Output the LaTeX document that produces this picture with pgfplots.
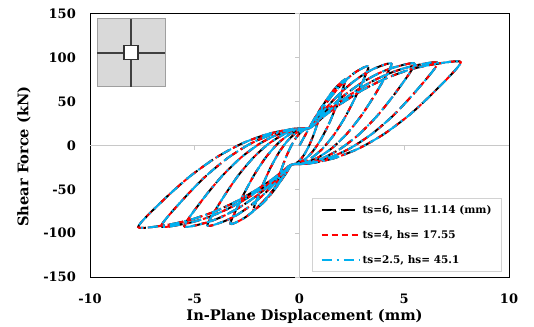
\documentclass[border=0pt]{standalone}
\usepackage{pgfplots}
\pgfplotsset{compat=1.18}
\usepackage{pgfplotstable}
\usepackage{fontspec}
\setmainfont{DejaVu Serif}
\definecolor{cyanx}{HTML}{00B0F0}
\definecolor{zerogray}{HTML}{C8C8C8}
\pgfplotstableread{
x y
0 0
0.3 13
0.6 26
0.9 38
1.1 45
0.875 26.4
0.65 10.8
0.425 -1.7
0.2 -11.3
-0.025 -17.8
-0.25 -21.3
-0.4 -22
-0.47 -24.9
-0.54 -27.8
-0.645 -31.9
-0.75 -35.7
-0.855 -39.1
-0.96 -42.2
-1.1 -45
-0.86 -27.0
-0.62 -11.9
-0.38 0.3
-0.14 9.6
0.1 15.9
0.34 19.35
0.5 20
0.67 27.5
0.84 34.7
1.095 44.9
1.35 54.2
1.605 62.4
1.86 69.2
2.2 75
1.81 48.1
1.42 25.5
1.03 7.3
0.64 -6.5
0.25 -15.9
-0.14 -21.0
-0.4 -22
-0.58 -29.0
-0.76 -35.7
-1.03 -45.1
-1.30 -53.7
-1.57 -61.3
-1.84 -67.6
-2.2 -73
-1.795 -47.2
-1.39 -25.6
-0.985 -8.1
-0.58 5.1
-0.175 14.2
0.23 19.1
0.5 20
0.78 30.9
1.06 41.0
1.48 54.9
1.90 66.9
2.32 77.0
2.74 84.7
3.3 90
2.745 58.9
2.19 32.9
1.635 11.9
1.08 -4.1
0.525 -15.0
-0.03 -20.9
-0.4 -22
-0.69 -32.4
-0.98 -42.1
-1.415 -55.4
-1.85 -66.9
-2.285 -76.5
-2.72 -83.9
-3.3 -89
-2.73 -58.8
-2.16 -33.4
-1.59 -13.0
-1.02 2.6
-0.45 13.2
0.12 18.9
0.5 20
0.89 32.0
1.28 43.1
1.865 57.9
2.45 70.5
3.035 80.7
3.62 88.3
4.4 93
3.68 61.1
2.96 34.4
2.24 12.8
1.52 -3.6
0.8 -14.8
0.08 -20.85
-0.4 -22
-0.8 -33.3
-1.2 -43.8
-1.8 -57.8
-2.4 -69.7
-3.0 -79.4
-3.6 -86.5
-4.4 -91
-3.665 -60.2
-2.93 -34.4
-2.195 -13.6
-1.46 2.2
-0.725 13.1
0.01 18.9
0.5 20
1.0 32.6
1.5 44.2
2.25 59.4
3.0 72.0
3.75 82.0
4.5 89.0
5.5 93
4.615 61.1
3.73 34.4
2.845 12.8
1.96 -3.6
1.075 -14.8
0.19 -20.85
-0.4 -22
-0.91 -34.1
-1.42 -45.2
-2.185 -59.8
-2.95 -71.9
-3.715 -81.4
-4.48 -88.2
-5.5 -92
-4.6 -60.9
-3.7 -34.9
-2.8 -13.9
-1.9 2.1
-1.0 13.0
-0.1 18.9
0.5 20
1.11 33.4
1.72 45.6
2.635 61.4
3.55 74.2
4.465 83.9
5.38 90.5
6.6 94
5.55 61.8
4.5 34.8
3.45 13.1
2.4 -3.4
1.35 -14.75
0.3 -20.8
-0.4 -22
-1.02 -34.7
-1.64 -46.2
-2.57 -61.1
-3.5 -73.2
-4.43 -82.5
-5.36 -88.7
-6.6 -92
-5.535 -60.9
-4.47 -34.9
-3.405 -13.9
-2.34 2.1
-1.275 13.0
-0.21 18.9
0.5 20
1.22 34.3
1.94 47.0
3.02 63.4
4.1 76.3
5.18 85.9
6.26 92.0
7.7 95
6.485 62.5
5.27 35.3
4.055 13.4
2.84 -3.3
1.625 -14.7
0.41 -20.8
-0.4 -22
-1.13 -35.5
-1.86 -47.6
-2.955 -63.0
-4.05 -75.3
-5.145 -84.3
-6.24 -90.2
-7.7 -93
-6.47 -61.6
-5.24 -35.4
-4.01 -14.2
-2.78 1.9
-1.55 12.9
-0.32 18.9
0.5 20
}\loops
\begin{document}
\begin{tikzpicture}
\path[use as bounding box] (0,0) rectangle (534pt,326pt);
\begin{axis}[
  at={(90pt,49pt)}, anchor=south west,
  width=419pt, height=263pt, scale only axis,
  xmin=-10, xmax=10, ymin=-150, ymax=150,
  xtick={-10,-5,0,5,10}, ytick={-150,-100,-50,0,50,100,150},
  xticklabels={-10,-5,0,5,10}, yticklabels={-150,-100,-50,0,50,100,150},
  major tick length=0pt, tick style={draw=none},
  axis line style={black, line width=1pt},
  xticklabel style={font=\bfseries\fontsize{13}{15}\selectfont, inner sep=0pt, anchor=base, yshift=-26pt},
  yticklabel style={font=\bfseries\fontsize{13}{15}\selectfont, inner sep=0pt, anchor=east, xshift=-14pt},
  xlabel={In-Plane Displacement (mm)}, ylabel={Shear Force (kN)},
  xlabel style={at={(axis description cs:0.512,-0.167)}, anchor=base, font=\bfseries\fontsize{14.6}{17}\selectfont},
  ylabel style={at={(axis description cs:-0.1575,0.458)}, anchor=center, font=\bfseries\fontsize{14.6}{17}\selectfont},
  legend style={draw=gray!35, line width=0.8pt, fill=white, at={(0.983,0.019)}, anchor=south east,
    font=\bfseries\fontsize{10.5}{12}\selectfont, inner xsep=8pt, inner ysep=5pt, row sep=11.5pt,
    cells={anchor=west}},
  legend image code/.code={\draw[#1] (0pt,0pt) -- (38pt,0pt);},
]
\draw[zerogray, line width=1.2pt] (axis cs:0,-150) -- (axis cs:0,150);
\draw[zerogray, line width=1.2pt] (axis cs:-10,0) -- (axis cs:10,0);
\pgfplotsinvokeforeach{-5,5}{\draw[zerogray, line width=1pt] (axis cs:#1,0) -- ++(0pt,-5pt);}
\pgfplotsinvokeforeach{-150,-100,-50,50,100,150}{\draw[zerogray, line width=1pt] (axis cs:0,#1) -- ++(-5pt,0pt);}
\begin{scope}[shift={(axis cs:-8.04,105.7)}]
  \draw[fill=gray!30, draw=gray!75, line width=0.8pt] (-34pt,-34pt) rectangle (34pt,34pt);
  \draw[black!75, line width=1.4pt] (-34pt,0pt) -- (34pt,0pt);
  \draw[black!75, line width=1.4pt] (0pt,-34pt) -- (0pt,34pt);
  \draw[fill=white, draw=black!80, line width=1.2pt] (-7pt,-7pt) rectangle (7pt,7pt);
\end{scope}
\addplot[black, line width=2pt, smooth, tension=0.4, dash pattern=on 14pt off 5pt] table {\loops};
\addlegendentry{ts=6, hs= 11.14 (mm)}
\addplot[red, line width=2pt, smooth, tension=0.4, dash pattern=on 6pt off 4pt] table {\loops};
\addlegendentry{ts=4, hs= 17.55}
\addplot[cyanx, line width=2pt, smooth, tension=0.4, dash pattern=on 10pt off 5pt on 2pt off 5pt] table {\loops};
\addlegendentry{ts=2.5, hs= 45.1}
\end{axis}
\end{tikzpicture}
\end{document}
